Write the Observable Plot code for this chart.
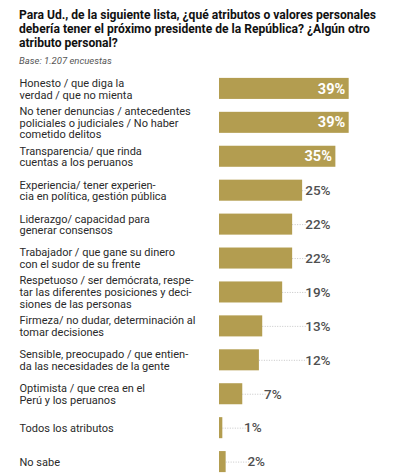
<!DOCTYPE html>
<html>
<head>
<meta charset="utf-8">
<script src="https://cdn.jsdelivr.net/npm/d3@7"></script>
<script src="https://cdn.jsdelivr.net/npm/@observablehq/plot@0.6"></script>
<style>
  body { margin: 0; background: #fff; font-family: Roboto, "Noto Sans", sans-serif; }
  #wrap { width: 418px; height: 474px; overflow: hidden; position: relative; }
  #title { position: absolute; left: 19px; top: 8px; white-space: nowrap; font-weight: 700; font-size: 12.1px; line-height: 14px; color: #111; letter-spacing: 0px; }
  #sub { position: absolute; left: 19px; top: 55px; font-style: italic; font-size: 9.5px; color: #555; }
  #chart { position: absolute; left: 0; top: 65px; }
</style>
</head>
<body>
<div id="wrap">
  <div id="title">Para Ud., de la siguiente lista, ¿qué atributos o valores personales<br>debería tener el próximo presidente de la República? ¿Algún otro<br>atributo personal?</div>
  <div id="sub">Base: 1.207 encuestas</div>
  <div id="chart"></div>
</div>
<script>
const categories = [
  "Honesto / que diga la\nverdad / que no mienta",
  "No tener denuncias / antecedentes\npoliciales o judiciales / No haber\ncometido delitos",
  "Transparencia/ que rinda\ncuentas a los peruanos",
  "Experiencia/ tener experien-\ncia en política, gestión pública",
  "Liderazgo/ capacidad para\ngenerar consensos",
  "Trabajador / que gane su dinero\ncon el sudor de su frente",
  "Respetuoso / ser demócrata, respe-\ntar las diferentes posiciones y deci-\nsiones de las personas",
  "Firmeza/ no dudar, determinación al\ntomar decisiones",
  "Sensible, preocupado / que entien-\nda las necesidades de la gente",
  "Optimista / que crea en el\nPerú y los peruanos",
  "Todos los atributos",
  "No sabe"
];
const values = [39, 39, 35, 25, 22, 22, 19, 13, 12, 7, 1, 2];

const data = categories.map((c, i) => ({cat: c, v: values[i], label: values[i] + "%"}));
const inside = data.filter(d => d.v >= 30);
const outside = data.filter(d => d.v < 30).map(d => {
  const lx = d.v >= 10 ? 33.4 : Math.max(10.5, d.v + 11.7);
  const w = d.label.length * 2.35;
  return {...d, lx, ls: lx - w};
});

const chart = Plot.plot({
  width: 418,
  height: 409,
  marginLeft: 219,
  marginRight: 66,
  marginTop: 0,
  marginBottom: 0,
  x: {domain: [0, 40], axis: null},
  y: {domain: categories, range: [0, 420], padding: 0.38, round: false, axis: null},
  style: {fontFamily: "Roboto, 'Noto Sans', sans-serif", background: "transparent"},
  marks: [
    Plot.barX(data, {x: "v", y: "cat", fill: "#b39d50"}),
    Plot.ruleY(outside, {y: "cat", x1: "v", x2: "ls", stroke: "#b8b8b8", strokeDasharray: "1,1.5", strokeWidth: 0.8}),
    Plot.text(data, {x: 0, y: "cat", text: "cat", textAnchor: "start", dx: -200, fontSize: 11, lineHeight: 1.07, fill: "#2a2a2a"}),
    Plot.text(inside, {x: "v", y: "cat", text: "label", textAnchor: "end", dx: -4, fill: "#fff", fontWeight: 700, fontSize: 14.5}),
    Plot.text(outside, {x: "lx", y: "cat", text: "label", textAnchor: "end", fill: "#505050", fontWeight: 500, fontSize: 13.5})
  ]
});
document.getElementById("chart").appendChild(chart);
</script>
</body>
</html>
